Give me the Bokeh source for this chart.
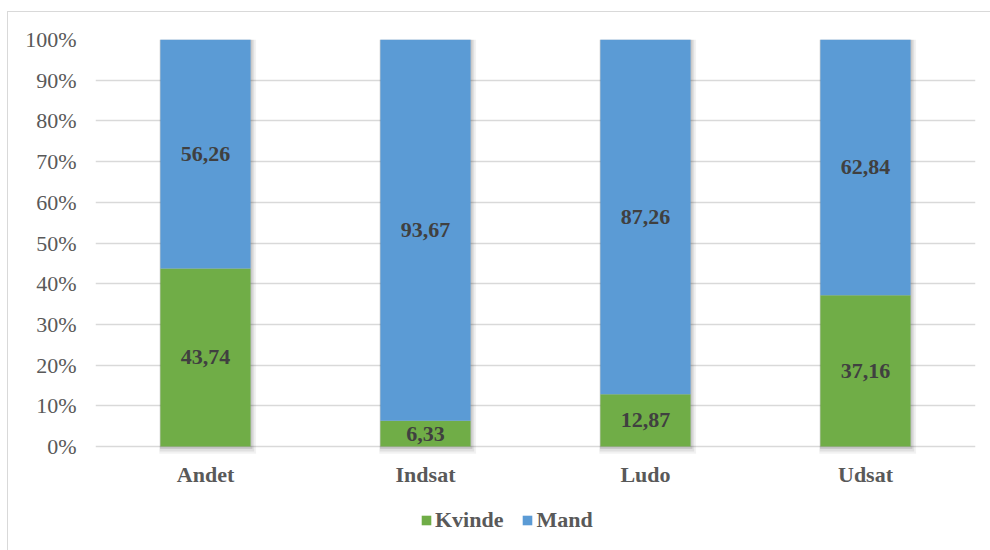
from bokeh.plotting import figure
from bokeh.models import (ColumnDataSource, FixedTicker, NumeralTickFormatter,
                          Legend, LegendItem, Range1d, FactorRange)
from bokeh.transform import dodge
from bokeh.core.properties import value
from bokeh.embed import file_html
from bokeh.resources import INLINE

categories = ["Andet", "Indsat", "Ludo", "Udsat"]
kvinde = [43.74, 6.33, 12.87, 37.16]
mand = [56.26, 93.67, 87.26, 62.84]
y_ticks = [0, 0.1, 0.2, 0.3, 0.4, 0.5, 0.6, 0.7, 0.8, 0.9, 1.0]

GREEN = "#70ad47"
BLUE = "#5b9bd5"
TEXT = "#595959"
LABEL = "#404040"
FONT = "Liberation Serif"
BAR_W = 0.41

totals = [k + m for k, m in zip(kvinde, mand)]
kv_frac = [k / t for k, t in zip(kvinde, totals)]
ma_frac = [m / t for m, t in zip(mand, totals)]

source = ColumnDataSource(dict(cat=categories, Kvinde=kv_frac, Mand=ma_frac,
                               top=[k + m for k, m in zip(kv_frac, ma_frac)]))

# frame extends below 0 to host category labels and legend
p = figure(x_range=FactorRange(*categories, range_padding=0),
           y_range=Range1d(-0.2506, 1),
           width=984, height=539, output_backend="svg", toolbar_location=None,
           min_border_left=87, min_border_right=17, min_border_top=27,
           min_border_bottom=3,
           styles={"margin-left": "7px", "margin-top": "11px",
                   "border-left": "1px solid #d9d9d9",
                   "border-top": "1px solid #d9d9d9"})
p.outline_line_color = None
p.background_fill_color = "white"
p.border_fill_color = "white"

p.xgrid.grid_line_color = None
p.ygrid.grid_line_color = "#d9d9d9"
p.ygrid.grid_line_width = 1.5
p.ygrid.ticker = FixedTicker(ticks=y_ticks)

# soft shadow behind the bars
for extra, alpha in [(0.030, 0.05), (0.020, 0.07), (0.010, 0.10)]:
    p.vbar(x=dodge("cat", extra / 3, range=p.x_range), width=BAR_W + extra,
           bottom=-0.006 * extra / 0.01, top="top", source=source,
           fill_color="#000000", fill_alpha=alpha, line_color=None)

renderers = p.vbar_stack(["Kvinde", "Mand"], x="cat", width=BAR_W,
                         color=[GREEN, BLUE], line_color=None, source=source)

# data labels
lab_x, lab_y, lab_t = [], [], []
for c, k, m, kf, mf in zip(categories, kvinde, mand, kv_frac, ma_frac):
    lab_x += [c, c]
    lab_y += [kf / 2, kf + mf / 2]
    lab_t += [f"{k:.2f}".replace(".", ","), f"{m:.2f}".replace(".", ",")]
p.text(x=lab_x, y=lab_y, text=lab_t, text_align="center", text_baseline="middle",
       text_font=value(FONT), text_font_style="bold", text_font_size="22px",
       text_color=LABEL)

# category labels
p.text(x=categories, y=[-0.0688] * len(categories), text=categories,
       text_align="center", text_baseline="middle",
       text_font=value(FONT), text_font_style="bold", text_font_size="22px",
       text_color=TEXT)

p.yaxis.ticker = FixedTicker(ticks=y_ticks)
p.yaxis.formatter = NumeralTickFormatter(format="0%")
p.yaxis.axis_line_color = None
p.yaxis.major_tick_line_color = None
p.yaxis.minor_tick_line_color = None
p.yaxis.major_label_text_font = FONT
p.yaxis.major_label_text_font_size = "22px"
p.yaxis.major_label_text_color = TEXT
p.yaxis.major_label_standoff = 13

p.xaxis.visible = False

legend = Legend(items=[LegendItem(label="Kvinde", renderers=[renderers[0]]),
                       LegendItem(label="Mand", renderers=[renderers[1]])],
                orientation="horizontal", location=(325, 15),
                padding=0, margin=0, spacing=18, label_standoff=3,
                glyph_width=12, glyph_height=12,
                label_text_font=FONT, label_text_font_style="bold",
                label_text_font_size="22px", label_text_color=TEXT,
                border_line_color=None, background_fill_alpha=0)
p.add_layout(legend, "center")

open("out.html", "w").write(file_html(p, INLINE))
